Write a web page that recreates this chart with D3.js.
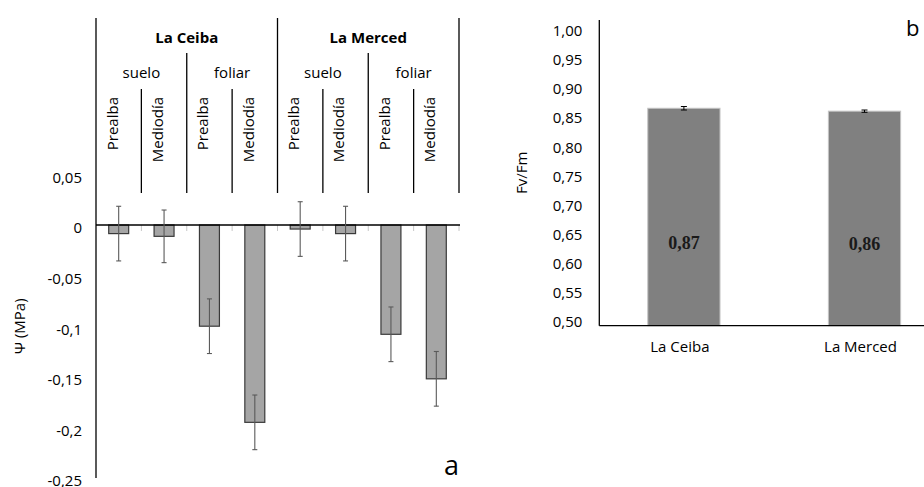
<!DOCTYPE html>
<html>
<head>
<meta charset="utf-8">
<script src="https://cdn.jsdelivr.net/npm/d3@7"></script>
<style>
  body { margin: 0; background: #fff; }
  svg { display: block; font-family: "Open Sans", sans-serif; }
</style>
</head>
<body>
<div id="chart"></div>
<script>
// panel a: water potential, 3-level categories
const sites = ["La Ceiba", "La Merced"];
const sources = ["suelo", "foliar"];
const times = ["Prealba", "Mediodía"];
const psiValues = [-0.0085, -0.0112, -0.100, -0.195, -0.004, -0.0085, -0.108, -0.152];
const psiErrors = [0.027, 0.026, 0.027, 0.027, 0.027, 0.027, 0.027, 0.027];
const psiTicks = [0.05, 0, -0.05, -0.1, -0.15, -0.2, -0.25];

// panel b: Fv/Fm
const fvSites = ["La Ceiba", "La Merced"];
const fvValues = [0.874, 0.869];
const fvErrors = [0.003, 0.002];
const fvLabels = ["0,87", "0,86"];
const fvTicks = [0.50, 0.55, 0.60, 0.65, 0.70, 0.75, 0.80, 0.85, 0.90, 0.95, 1.00];

const W = 924, H = 487;
const comma = s => s.replace(".", ",");

const svg = d3.select("#chart").append("svg")
    .attr("width", W)
    .attr("height", H);

// ---------- panel a ----------
const leaves = [];
sites.forEach(s => sources.forEach(src => times.forEach(t => leaves.push({ site: s, source: src, time: t }))));
leaves.forEach((d, i) => { d.key = i; d.value = psiValues[i]; d.err = psiErrors[i]; });

const xa = d3.scaleBand()
    .domain(leaves.map(d => d.key))
    .range([96, 459])
    .paddingInner(0.56)
    .paddingOuter(0.28);

const ya = d3.scaleLinear()
    .domain([-0.25, 0.05])
    .range([478, 174.4]);

const step = xa.step();
const left = i => xa(i) - (step - xa.bandwidth()) / 2;
const headerTop = 18, header2 = 53, header3 = 89, headerBottom = 193;

const ga = svg.append("g");

// y axis line (runs up through the header)
ga.append("line")
    .attr("x1", 96).attr("x2", 96)
    .attr("y1", headerTop).attr("y2", ya(-0.25))
    .attr("stroke", "#000").attr("stroke-width", 1.3);

ga.append("g")
    .attr("transform", "translate(96,0)")
    .call(d3.axisLeft(ya).tickValues(psiTicks).tickSize(0).tickPadding(14)
        .tickFormat(d => comma(String(d))))
    .call(g => g.select(".domain").remove())
    .selectAll("text")
    .attr("dy", "0.52em")
    .attr("fill", "#000")
    .style("font-size", "15px")
    .style("font-family", "'Open Sans', sans-serif");

ga.append("text")
    .attr("transform", `translate(25,${(ya(0.05) + ya(-0.25)) / 2}) rotate(-90)`)
    .attr("text-anchor", "middle")
    .style("font-size", "15px")
    .text("\u03A8 (MPa)");

// small ticks under the zero line
ga.selectAll(".ctick")
    .data(d3.range(1, leaves.length + 1))
    .enter().append("line")
    .attr("x1", i => 96 + i * step).attr("x2", i => 96 + i * step)
    .attr("y1", ya(0)).attr("y2", ya(0) + 6)
    .attr("stroke", "#c8c8c8").attr("stroke-width", 1);

// header separators
const sep = [];
for (let i = 1; i <= leaves.length; i++) {
    let top = header3;
    if (i % 2 === 0) top = header2;
    if (i % 4 === 0) top = headerTop;
    sep.push({ x: 96 + i * step, top });
}
ga.selectAll(".sep")
    .data(sep)
    .enter().append("line")
    .attr("x1", d => d.x).attr("x2", d => d.x)
    .attr("y1", d => d.top).attr("y2", headerBottom)
    .attr("stroke", "#000").attr("stroke-width", 1.3);

// site labels
ga.selectAll(".site")
    .data(sites)
    .enter().append("text")
    .attr("x", (d, i) => 96 + (i * 4 + 2) * step)
    .attr("y", 43)
    .attr("text-anchor", "middle")
    .style("font-size", "15px")
    .style("font-weight", "bold")
    .text(d => d);

// source labels
ga.selectAll(".source")
    .data(d3.range(sites.length * sources.length))
    .enter().append("text")
    .attr("x", i => 96 + (i * 2 + 1) * step)
    .attr("y", 78)
    .attr("text-anchor", "middle")
    .style("font-size", "15px")
    .text(i => sources[i % sources.length]);

// time labels, rotated
ga.selectAll(".time")
    .data(leaves)
    .enter().append("text")
    .attr("transform", d => `translate(${left(d.key) + 21.5},97) rotate(-90)`)
    .attr("text-anchor", "end")
    .style("font-size", "15px")
    .text(d => d.time);

// bars
ga.selectAll(".bar")
    .data(leaves)
    .enter().append("rect")
    .attr("x", d => xa(d.key))
    .attr("y", d => ya(Math.max(0, d.value)))
    .attr("width", xa.bandwidth())
    .attr("height", d => Math.abs(ya(d.value) - ya(0)))
    .attr("fill", "#a5a5a5")
    .attr("stroke", "#3a3a3a")
    .attr("stroke-width", 1.2);

// zero line
ga.append("line")
    .attr("x1", 96).attr("x2", 460)
    .attr("y1", ya(0)).attr("y2", ya(0))
    .attr("stroke", "#000").attr("stroke-width", 1.3);

// error bars
const ea = ga.selectAll(".err")
    .data(leaves)
    .enter().append("g")
    .attr("stroke", "#5a5a5a").attr("stroke-width", 1.1);
ea.append("line")
    .attr("x1", d => xa(d.key) + xa.bandwidth() / 2).attr("x2", d => xa(d.key) + xa.bandwidth() / 2)
    .attr("y1", d => ya(d.value + d.err)).attr("y2", d => ya(d.value - d.err));
[1, -1].forEach(s => {
    ea.append("line")
        .attr("x1", d => xa(d.key) + xa.bandwidth() / 2 - 2.5)
        .attr("x2", d => xa(d.key) + xa.bandwidth() / 2 + 2.5)
        .attr("y1", d => ya(d.value + s * d.err)).attr("y2", d => ya(d.value + s * d.err));
});

ga.append("text")
    .attr("x", 444).attr("y", 475)
    .style("font-size", "27px")
    .text("a");

// ---------- panel b ----------
const xb = d3.scaleBand()
    .domain(fvSites)
    .range([593.6, 954.8])
    .paddingInner(0.6)
    .paddingOuter(0.3);

const yb = d3.scaleLinear()
    .domain([0.5, 1.0])
    .range([325.7, 35]);

const gb = svg.append("g");

gb.append("g")
    .attr("transform", "translate(599.3,0)")
    .call(d3.axisLeft(yb).tickValues(fvTicks).tickSize(0).tickPadding(17)
        .tickFormat(d => comma(d3.format(".2f")(d))))
    .call(g => g.select(".domain").remove())
    .selectAll("text")
    .attr("dy", "0.05em")
    .attr("fill", "#000")
    .style("font-size", "15px")
    .style("font-family", "'Open Sans', sans-serif");

gb.append("text")
    .attr("transform", `translate(527,${(yb(0.5) + 20) / 2}) rotate(-90)`)
    .attr("text-anchor", "middle")
    .style("font-size", "15px")
    .text("Fv/Fm");

gb.selectAll(".bar")
    .data(fvSites)
    .enter().append("rect")
    .attr("x", d => xb(d))
    .attr("y", (d, i) => yb(fvValues[i]))
    .attr("width", xb.bandwidth())
    .attr("height", (d, i) => yb(0.5) - yb(fvValues[i]))
    .attr("fill", "#808080")
    .attr("stroke", "#c4c4c4")
    .attr("stroke-width", 1);

const eb = gb.selectAll(".err")
    .data(fvSites)
    .enter().append("g")
    .attr("stroke", "#000").attr("stroke-width", 1);
eb.append("line")
    .attr("x1", d => xb(d) + xb.bandwidth() / 2).attr("x2", d => xb(d) + xb.bandwidth() / 2)
    .attr("y1", (d, i) => yb(fvValues[i] + fvErrors[i])).attr("y2", (d, i) => yb(fvValues[i] - fvErrors[i]));
[1, -1].forEach(s => {
    eb.append("line")
        .attr("x1", d => xb(d) + xb.bandwidth() / 2 - 3)
        .attr("x2", d => xb(d) + xb.bandwidth() / 2 + 3)
        .attr("y1", (d, i) => yb(fvValues[i] + s * fvErrors[i]))
        .attr("y2", (d, i) => yb(fvValues[i] + s * fvErrors[i]));
});

// value labels inside the bars
gb.selectAll(".vlab")
    .data(fvSites)
    .enter().append("text")
    .attr("x", d => xb(d) + xb.bandwidth() / 2)
    .attr("y", (d, i) => yb(0.5 + (fvValues[i] - 0.5) * 0.355))
    .attr("text-anchor", "middle")
    .style("font-family", "'Liberation Serif', 'Times New Roman', serif")
    .style("font-weight", "bold")
    .style("font-size", "18px")
    .style("fill", "#1a1a1a")
    .text((d, i) => fvLabels[i]);

// axis lines
gb.append("line")
    .attr("x1", 599.3).attr("x2", 599.3)
    .attr("y1", 20).attr("y2", yb(0.5))
    .attr("stroke", "#000").attr("stroke-width", 1.3);
gb.append("line")
    .attr("x1", 599.3).attr("x2", W)
    .attr("y1", yb(0.5)).attr("y2", yb(0.5))
    .attr("stroke", "#000").attr("stroke-width", 1.3);

gb.selectAll(".xlab")
    .data(fvSites)
    .enter().append("text")
    .attr("x", d => xb(d) + xb.bandwidth() / 2 - 4)
    .attr("y", yb(0.5) + 26)
    .attr("text-anchor", "middle")
    .style("font-size", "15px")
    .text(d => d);

gb.append("text")
    .attr("x", 906).attr("y", 36)
    .style("font-size", "22px")
    .text("b");
</script>
</body>
</html>
